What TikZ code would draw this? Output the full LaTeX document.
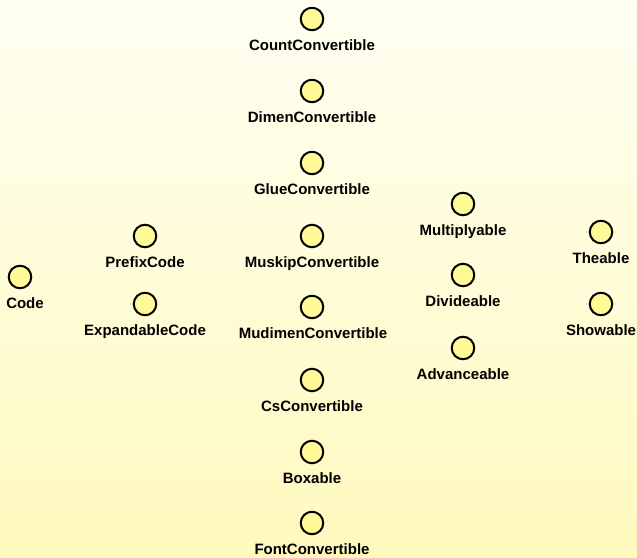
\documentclass[tikz,border=0pt]{standalone}
\usepackage{fontspec}
\setmainfont{Liberation Sans}
\begin{document}
\begin{tikzpicture}[x=1pt,y=-1pt,
  dot/.style={circle,draw=black,line width=2pt,fill=dotfill,minimum size=22.5pt,inner sep=0pt},
  lbl/.style={anchor=base,font=\fontsize{15}{17}\selectfont\bfseries,text=black,inner sep=0pt}]
\definecolor{dotfill}{RGB}{255,250,150}
\definecolor{bgtop}{RGB}{255,255,242}
\definecolor{bgbot}{RGB}{255,249,190}
\shade[top color=bgtop,bottom color=bgbot] (0,0) rectangle (637,557);
\useasboundingbox (0,0) rectangle (637,557);
\foreach \n/\t/\x/\y/\lx in {
  cc/CountConvertible/312/19/312,
  dc/DimenConvertible/312/91/312,
  gc/GlueConvertible/312/163/312,
  mk/MuskipConvertible/312/236/312,
  md/MudimenConvertible/312/307/313,
  cs/CsConvertible/312/380/312,
  bx/Boxable/312/452/312,
  fc/FontConvertible/312/523/312,
  cd/Code/20/277/25,
  pc/PrefixCode/145/236/145,
  ec/ExpandableCode/145/304/145,
  mu/Multiplyable/463/204/463,
  dv/Divideable/463/275/463,
  ad/Advanceable/463/348/463,
  th/Theable/601/232/601,
  sh/Showable/601/304/601}{
  \node[dot] (\n) at (\x,\y) {};
  \node[lbl] (\n-l) at (\lx,\y+31) {\t};
}
\end{tikzpicture}
\end{document}
